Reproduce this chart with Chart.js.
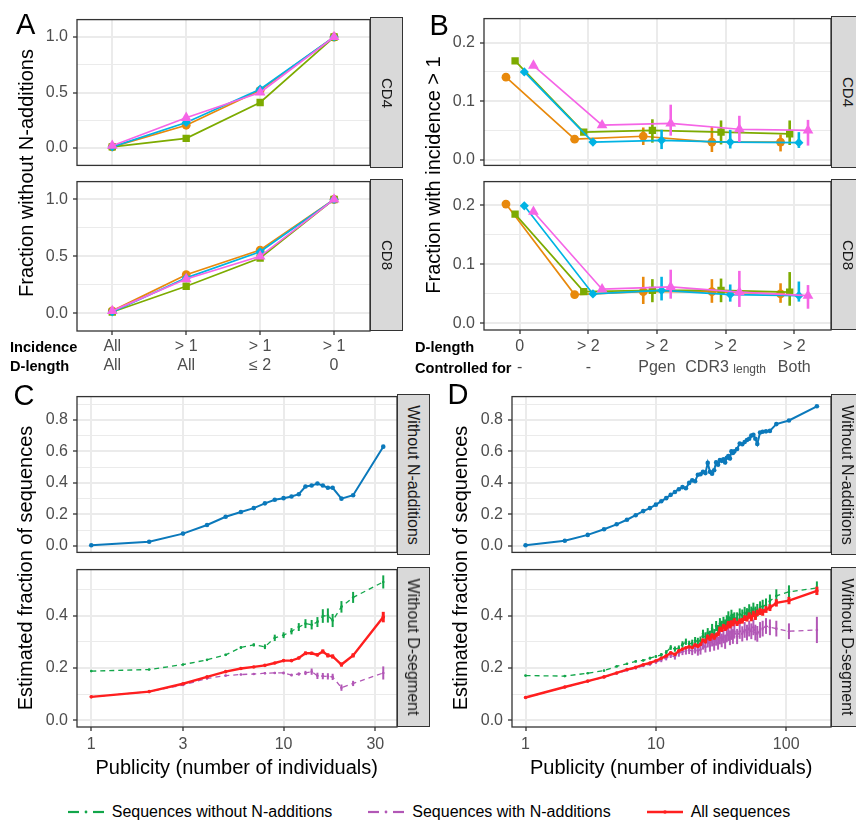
<!DOCTYPE html>
<html>
<head>
<meta charset="utf-8">
<script src="https://cdn.jsdelivr.net/npm/chart.js@4.4.0/dist/chart.umd.min.js"></script>
<style>
  body { margin: 0; background: #fff; width: 856px; height: 823px; position: relative; overflow: hidden;
         font-family: "Liberation Sans", Arial, sans-serif; }
  canvas { position: absolute; }
  .t { position: absolute; white-space: nowrap; line-height: 1; transform: translate(-50%, -50%); }
  .strip { position: absolute; background: #d9d9d9; border: 1px solid #333; box-sizing: border-box; }
  .strip span { position: absolute; left: 50%; top: 50%; white-space: nowrap; line-height: 1; color: #1a1a1a;
                transform: translate(-50%, -50%) rotate(90deg); }
  .legend { position: absolute; left: 0; top: 803px; width: 856px; display: flex; justify-content: center;
            align-items: center; font-size: 16px; color: #000; }
  .legend .item { display: flex; align-items: center; margin: 0 17px; }
  .legend svg { margin-right: 6px; }
</style>
</head>
<body>
<script>
// ---------- panel A : fraction without N-additions ----------
const catA = [1, 2, 3, 4];
const incidenceA = ['All', '> 1', '> 1', '> 1'];
const dLengthA = ['All', 'All', '\u2264 2', '0'];
const a4Orange = [0.01, 0.205, 0.52, 1.0];
const a4Green = [0.01, 0.087, 0.41, 1.0];
const a4Cyan = [0.01, 0.23, 0.53, 1.0];
const a4Pink = [0.02, 0.272, 0.50, 1.0];
const a8Orange = [0.02, 0.338, 0.555, 1.0];
const a8Green = [0.01, 0.237, 0.485, 1.0];
const a8Cyan = [0.01, 0.31, 0.54, 1.0];
const a8Pink = [0.02, 0.30, 0.50, 1.0];

// ---------- panel B : fraction with incidence > 1 ----------
const catB = [1, 2, 3, 4, 5];
const dLengthB = ['0', '> 2', '> 2', '> 2', '> 2'];
const controlB = ['-', '-', 'Pgen', 'CDR3', 'Both'];
const controlSubB = ['', '', '', 'length', ''];
const b4Orange = [0.141, 0.035, 0.040, 0.030, 0.030];
const b4OrangeLo = [null, null, 0.025, 0.013, 0.014];
const b4OrangeHi = [null, null, 0.055, 0.056, 0.043];
const b4Green = [0.169, 0.047, 0.050, 0.047, 0.044];
const b4GreenLo = [null, null, 0.029, 0.026, 0.025];
const b4GreenHi = [null, null, 0.069, 0.067, 0.067];
const b4Cyan = [0.150, 0.030, 0.033, 0.030, 0.029];
const b4CyanLo = [null, null, 0.018, 0.019, 0.020];
const b4CyanHi = [null, null, 0.051, 0.051, 0.047];
const b4Pink = [0.161, 0.059, 0.062, 0.052, 0.050];
const b4PinkLo = [null, null, 0.041, 0.030, 0.024];
const b4PinkHi = [null, null, 0.094, 0.075, 0.068];
const b8Orange = [0.202, 0.049, 0.054, 0.054, 0.050];
const b8OrangeLo = [null, null, 0.033, 0.035, 0.035];
const b8OrangeHi = [null, null, 0.079, 0.075, 0.068];
const b8Green = [0.185, 0.054, 0.056, 0.056, 0.053];
const b8GreenLo = [null, null, 0.036, 0.036, 0.030];
const b8GreenHi = [null, null, 0.075, 0.076, 0.087];
const b8Cyan = [0.199, 0.050, 0.056, 0.049, 0.047];
const b8CyanLo = [null, null, 0.039, 0.037, 0.037];
const b8CyanHi = [null, null, 0.079, 0.066, 0.071];
const b8Pink = [0.189, 0.058, 0.062, 0.053, 0.047];
const b8PinkLo = [null, null, 0.042, 0.028, 0.025];
const b8PinkHi = [null, null, 0.091, 0.089, 0.065];

// ---------- panel C ----------
const pubC = [1, 2, 3, 4, 5, 6, 7, 8, 9, 10, 11, 12, 13, 14, 15, 16, 17, 18, 20, 23, 33];
const noNC = [0.004, 0.026, 0.078, 0.133, 0.185, 0.215, 0.24, 0.27, 0.293, 0.303, 0.314, 0.328,
  0.377, 0.383, 0.396, 0.383, 0.369, 0.369, 0.30, 0.322, 0.63];
const allC = [0.09, 0.11, 0.14, 0.166, 0.186, 0.198, 0.204, 0.21, 0.219, 0.228, 0.228, 0.238,
  0.256, 0.256, 0.25, 0.263, 0.248, 0.244, 0.213, 0.248, 0.394];
const allErrC = [0.002, 0.002, 0.002, 0.002, 0.002, 0.002, 0.003, 0.003, 0.003, 0.003, 0.004, 0.005,
  0.007, 0.006, 0.006, 0.008, 0.008, 0.008, 0.008, 0.008, 0.02];
const withoutNC = [0.188, 0.194, 0.213, 0.231, 0.25, 0.278, 0.288, 0.281, 0.315, 0.325, 0.34, 0.356,
  0.369, 0.365, 0.375, 0.398, 0.40, 0.381, 0.433, 0.469, 0.528];
const withoutNErrC = [0.003, 0.003, 0.003, 0.003, 0.004, 0.005, 0.006, 0.009, 0.012, 0.011, 0.012, 0.015,
  0.017, 0.018, 0.019, 0.026, 0.027, 0.025, 0.022, 0.021, 0.025];
const withNC = [0.09, 0.11, 0.135, 0.16, 0.171, 0.175, 0.177, 0.18, 0.181, 0.181, 0.173, 0.177,
  0.181, 0.186, 0.17, 0.169, 0.168, 0.166, 0.125, 0.141, 0.181];
const withNErrC = [0.002, 0.002, 0.002, 0.003, 0.003, 0.003, 0.003, 0.004, 0.004, 0.005, 0.005, 0.006,
  0.008, 0.012, 0.012, 0.012, 0.012, 0.012, 0.012, 0.01, 0.025];

// ---------- panel D ----------
const pubD = [1, 2, 3, 4, 5, 6, 7, 8, 9, 10, 11, 12, 13, 14, 15, 16, 17, 18, 19, 20,
  21, 22, 23, 24, 25, 26, 27, 28, 29, 30, 31, 32, 33, 34, 35, 36, 37, 38, 39, 40,
  42, 44, 46, 48, 50, 52, 54, 56, 58, 60, 63, 66, 70, 75, 84, 105, 172];
const noND = [0.004, 0.033, 0.07, 0.106, 0.137, 0.166, 0.195, 0.221, 0.24, 0.262,
  0.283, 0.303, 0.324, 0.342, 0.36, 0.373, 0.366, 0.40, 0.416, 0.41,
  0.452, 0.455, 0.47, 0.462, 0.527, 0.47, 0.458, 0.48, 0.53, 0.515,
  0.545, 0.54, 0.55, 0.53, 0.56, 0.57, 0.555, 0.60, 0.59, 0.60,
  0.615, 0.65, 0.645, 0.66, 0.672, 0.68, 0.70, 0.705, 0.68, 0.647,
  0.72, 0.725, 0.727, 0.73, 0.773, 0.796, 0.886];
const allD = [0.0875, 0.1275, 0.15, 0.166, 0.181, 0.194, 0.2025, 0.2125, 0.219, 0.2275,
  0.237, 0.246, 0.258, 0.252, 0.265, 0.272, 0.277, 0.281, 0.278, 0.288,
  0.283, 0.29, 0.306, 0.30, 0.32, 0.31, 0.325, 0.315, 0.325, 0.33,
  0.35, 0.345, 0.36, 0.35, 0.356, 0.37, 0.36, 0.372, 0.369, 0.38,
  0.37, 0.378, 0.38, 0.39, 0.388, 0.40, 0.39, 0.406, 0.395, 0.41,
  0.415, 0.412, 0.423, 0.43, 0.448, 0.457, 0.494];
const allErrD = [0.002, 0.002, 0.002, 0.002, 0.002, 0.002, 0.002, 0.002, 0.002, 0.002,
  0.003, 0.003, 0.004, 0.004, 0.004, 0.004, 0.004, 0.004, 0.005, 0.005,
  0.006, 0.006, 0.006, 0.006, 0.007, 0.007, 0.007, 0.007, 0.008, 0.008,
  0.008, 0.008, 0.008, 0.009, 0.009, 0.009, 0.009, 0.01, 0.01, 0.01,
  0.01, 0.01, 0.011, 0.011, 0.011, 0.012, 0.012, 0.012, 0.012, 0.012,
  0.013, 0.013, 0.013, 0.013, 0.014, 0.014, 0.016];
const withoutND = [0.171, 0.169, 0.18, 0.19, 0.206, 0.216, 0.225, 0.229, 0.2375, 0.244,
  0.25, 0.26, 0.278, 0.272, 0.276, 0.29, 0.30, 0.292, 0.295, 0.305,
  0.30, 0.305, 0.33, 0.32, 0.335, 0.325, 0.35, 0.33, 0.36, 0.345,
  0.37, 0.36, 0.375, 0.365, 0.38, 0.395, 0.375, 0.40, 0.385, 0.39,
  0.39, 0.405, 0.40, 0.41, 0.405, 0.42, 0.41, 0.425, 0.41, 0.42,
  0.43, 0.435, 0.44, 0.455, 0.475, 0.49, 0.505];
const withoutNErrD = [0.003, 0.003, 0.003, 0.003, 0.003, 0.003, 0.004, 0.004, 0.005, 0.005,
  0.007, 0.008, 0.009, 0.01, 0.01, 0.012, 0.012, 0.012, 0.013, 0.013,
  0.015, 0.015, 0.016, 0.016, 0.017, 0.017, 0.018, 0.018, 0.019, 0.019,
  0.02, 0.02, 0.02, 0.02, 0.021, 0.021, 0.021, 0.022, 0.022, 0.022,
  0.022, 0.022, 0.023, 0.023, 0.023, 0.023, 0.024, 0.024, 0.024, 0.024,
  0.024, 0.025, 0.025, 0.025, 0.025, 0.025, 0.025];
const withND = [0.087, 0.127, 0.149, 0.165, 0.179, 0.191, 0.199, 0.208, 0.214, 0.222,
  0.23, 0.238, 0.248, 0.243, 0.255, 0.262, 0.265, 0.268, 0.265, 0.272,
  0.265, 0.27, 0.29, 0.28, 0.30, 0.285, 0.305, 0.29, 0.31, 0.295,
  0.315, 0.305, 0.32, 0.30, 0.325, 0.33, 0.315, 0.335, 0.32, 0.34,
  0.32, 0.34, 0.33, 0.345, 0.335, 0.35, 0.34, 0.355, 0.335, 0.33,
  0.345, 0.35, 0.36, 0.355, 0.35, 0.34, 0.345];
const withNErrD = [0.003, 0.003, 0.003, 0.003, 0.003, 0.003, 0.004, 0.004, 0.005, 0.006,
  0.008, 0.009, 0.01, 0.011, 0.012, 0.013, 0.014, 0.015, 0.016, 0.017,
  0.018, 0.019, 0.02, 0.021, 0.022, 0.023, 0.023, 0.024, 0.025, 0.025,
  0.025, 0.026, 0.026, 0.027, 0.027, 0.027, 0.028, 0.028, 0.028, 0.028,
  0.029, 0.029, 0.029, 0.03, 0.03, 0.03, 0.03, 0.03, 0.03, 0.03,
  0.03, 0.03, 0.03, 0.03, 0.03, 0.03, 0.05];

// ---------- styles ----------
const groupColors = ['#e8890c', '#7dab00', '#00b3e3', '#f565e6'];
const groupShapes = ['circle', 'rect', 'rectRot', 'triangle'];
const groupRadius = [4.4, 5.2, 4.6, 6.2];
const dodgeB = [-0.2, -0.067, 0.067, 0.2];
const blue = '#0b79bb', green = '#12a64a', purple = '#b257b6', red = '#ff1f1f';

Chart.defaults.font.family = '"Liberation Sans", Arial, sans-serif';
Chart.defaults.font.size = 16;
Chart.defaults.color = '#4d4d4d';
Chart.defaults.animation = false;
Chart.defaults.plugins.legend.display = false;
Chart.defaults.plugins.tooltip.enabled = false;

// vertical error bars, drawn right after their own dataset
const errorBars = {
  id: 'errorBars',
  afterDatasetDraw(chart, args) {
    const ds = chart.data.datasets[args.index];
    if (!ds.err) return;
    const { ctx, scales: { x, y } } = chart;
    ctx.save();
    ctx.strokeStyle = ds.borderColor;
    ctx.lineWidth = ds.errWidth || 2;
    ds.data.forEach((p, i) => {
      const e = ds.err[i];
      if (!e || e[0] == null) return;
      const px = x.getPixelForValue(p.x);
      ctx.beginPath();
      ctx.moveTo(px, y.getPixelForValue(e[0]));
      ctx.lineTo(px, y.getPixelForValue(e[1]));
      ctx.stroke();
    });
    ctx.restore();
  }
};

// panel border on top of everything
const frame = {
  id: 'frame',
  afterDraw(chart) {
    const { ctx, chartArea: a } = chart;
    ctx.save();
    ctx.strokeStyle = '#333';
    ctx.lineWidth = 1.3;
    ctx.strokeRect(a.left, a.top, a.right - a.left, a.bottom - a.top);
    ctx.restore();
  }
};

// two-row category labels under the discrete x axes
const catLabels = {
  id: 'catLabels',
  afterDraw(chart, args, opts) {
    if (!opts.rows) return;
    const { ctx, chartArea, scales: { x } } = chart;
    ctx.save();
    ctx.fillStyle = '#4d4d4d';
    ctx.textBaseline = 'middle';
    opts.rows.forEach((row, r) => {
      row.forEach((s, i) => {
        const px = x.getPixelForValue(i + 1);
        const py = chartArea.bottom + opts.offsets[r];
        const sub = opts.subs && opts.subs[r] ? opts.subs[r][i] : '';
        ctx.font = '16px "Liberation Sans", Arial, sans-serif';
        if (sub) {
          const w1 = ctx.measureText(s + ' ').width;
          ctx.font = '12px "Liberation Sans", Arial, sans-serif';
          const w2 = ctx.measureText(sub).width;
          const x0 = px - (w1 + w2) / 2;
          ctx.textAlign = 'left';
          ctx.font = '16px "Liberation Sans", Arial, sans-serif';
          ctx.fillText(s, x0, py);
          ctx.font = '12px "Liberation Sans", Arial, sans-serif';
          ctx.fillText(sub, x0 + w1, py + 2);
        } else {
          ctx.textAlign = 'center';
          ctx.fillText(s, px, py);
        }
      });
    });
    ctx.restore();
  }
};

Chart.register(errorBars, frame, catLabels);

const near = (v, list) => list.some(m => Math.abs(m - v) < 1e-9);

function makePanel(rect, p) {
  const yW = 50, pad = 12, xH = p.xH || 0;
  const cv = document.createElement('canvas');
  cv.width = Math.round(rect.r - rect.l + yW + pad);
  cv.height = Math.round(rect.b - rect.t + 2 * pad + xH);
  cv.style.left = (rect.l - yW) + 'px';
  cv.style.top = (rect.t - pad) + 'px';
  document.body.appendChild(cv);
  return new Chart(cv, {
    type: 'line',
    data: { datasets: p.datasets },
    options: {
      responsive: false,
      layout: { padding: { left: 0, top: pad, right: pad, bottom: pad } },
      plugins: { catLabels: p.cat || {} },
      scales: {
        x: {
          type: p.xType, min: p.xMin, max: p.xMax,
          afterFit: s => { s.height = xH; },
          afterBuildTicks: s => { s.ticks = p.xTicks.map(v => ({ value: v })); },
          ticks: { display: !!p.xLabels, autoSkip: false, maxRotation: 0, padding: 4, callback: v => String(v) },
          grid: { color: '#ebebeb', lineWidth: 2, drawTicks: !!p.xTickMarks, tickLength: 4,
                  tickColor: '#333', tickWidth: 1.3 },
          border: { display: false }
        },
        y: {
          type: 'linear', min: p.yMin, max: p.yMax,
          afterFit: s => { s.width = yW; },
          afterBuildTicks: s => { s.ticks = p.yTicks.map(v => ({ value: v })); },
          ticks: { autoSkip: false, padding: 5,
                   callback: v => near(v, p.yMajor) ? v.toFixed(1) : '' },
          grid: {
            color: '#ebebeb',
            lineWidth: c => (c.tick && near(c.tick.value, p.yMajor)) ? 2 : 1,
            tickLength: 4,
            tickColor: c => (c.tick && near(c.tick.value, p.yMajor)) ? '#333' : 'rgba(0,0,0,0)',
            tickWidth: 1.3
          },
          border: { display: false }
        }
      }
    }
  });
}

// grouped series for A and B
function groupSets(cats, series, dodge, lows, highs) {
  return series.map((vals, s) => ({
    data: cats.map((c, i) => ({ x: c + (dodge ? dodge[s] : 0), y: vals[i] })),
    err: lows ? cats.map((c, i) => [lows[s][i], highs[s][i]]) : null,
    errWidth: 2.6,
    borderColor: groupColors[s], backgroundColor: groupColors[s],
    borderWidth: 1.7, pointStyle: groupShapes[s], pointRadius: groupRadius[s],
    pointBorderWidth: 0, order: -s
  }));
}

function pubSet(pubs, vals, errs, color, opt) {
  return Object.assign({
    data: pubs.map((x, i) => ({ x, y: vals[i] })),
    err: errs ? vals.map((v, i) => [v - errs[i], v + errs[i]]) : null,
    borderColor: color, backgroundColor: color, pointBorderWidth: 0
  }, opt);
}

// ----- A -----
const rA4 = { l: 77, r: 370, t: 17, b: 168 }, rA8 = { l: 77, r: 370, t: 179, b: 331 };
const aScale = { xType: 'linear', xMin: 0.523, xMax: 4.486, xTicks: catA,
  yMin: -0.157, yMax: 1.157, yTicks: [0, 0.25, 0.5, 0.75, 1], yMajor: [0, 0.5, 1] };
makePanel(rA4, Object.assign({}, aScale, {
  datasets: groupSets(catA, [a4Orange, a4Green, a4Cyan, a4Pink]) }));
makePanel(rA8, Object.assign({}, aScale, { xTickMarks: true, xH: 46,
  cat: { rows: [incidenceA, dLengthA], offsets: [16, 34.5] },
  datasets: groupSets(catA, [a8Orange, a8Green, a8Cyan, a8Pink]) }));

// ----- B -----
const rB4 = { l: 484.3, r: 831, t: 15.7, b: 167.7 }, rB8 = { l: 484.3, r: 831, t: 179, b: 330 };
const bScale = { xType: 'linear', xMin: 0.48, xMax: 5.535, xTicks: catB,
  yTicks: [0, 0.05, 0.1, 0.15, 0.2], yMajor: [0, 0.1, 0.2] };
makePanel(rB4, Object.assign({}, bScale, { yMin: -0.0099, yMax: 0.2413,
  datasets: groupSets(catB, [b4Orange, b4Green, b4Cyan, b4Pink], dodgeB,
    [b4OrangeLo, b4GreenLo, b4CyanLo, b4PinkLo], [b4OrangeHi, b4GreenHi, b4CyanHi, b4PinkHi]) }));
makePanel(rB8, Object.assign({}, bScale, { yMin: -0.011, yMax: 0.24, xTickMarks: true, xH: 46,
  cat: { rows: [dLengthB, controlB], subs: [null, controlSubB], offsets: [16.5, 37.5] },
  datasets: groupSets(catB, [b8Orange, b8Green, b8Cyan, b8Pink], dodgeB,
    [b8OrangeLo, b8GreenLo, b8CyanLo, b8PinkLo], [b8OrangeHi, b8GreenHi, b8CyanHi, b8PinkHi]) }));

// ----- C and D -----
const topY = { yMin: -0.0412, yMax: 0.9477, yTicks: [0, 0.1, 0.2, 0.3, 0.4, 0.5, 0.6, 0.7, 0.8, 0.9],
  yMajor: [0, 0.2, 0.4, 0.6, 0.8] };
const botY = { yMin: -0.025, yMax: 0.575, yTicks: [0, 0.1, 0.2, 0.3, 0.4, 0.5], yMajor: [0, 0.2, 0.4] };
const dashed = { borderWidth: 1.3, borderDash: [5, 4], pointRadius: 1.3, errWidth: 2 };
const solidRed = { borderWidth: 2.4, pointRadius: 1.8, errWidth: 3 };
const blueLine = { borderWidth: 2, pointRadius: 2.3 };

const cX = { xType: 'logarithmic', xMin: 0.843, xMax: 38.9, xTicks: [1, 3, 10, 30] };
makePanel({ l: 76.7, r: 396.7, t: 394.3, b: 555 }, Object.assign({}, cX, topY, {
  datasets: [pubSet(pubC, noNC, null, blue, blueLine)] }));
makePanel({ l: 76.7, r: 396.7, t: 566.7, b: 726.7 }, Object.assign({}, cX, botY, {
  xLabels: true, xTickMarks: true, xH: 28,
  datasets: [
    pubSet(pubC, allC, allErrC, red, solidRed),
    pubSet(pubC, withoutNC, withoutNErrC, green, dashed),
    pubSet(pubC, withNC, withNErrC, purple, dashed)
  ] }));

const dX = { xType: 'logarithmic', xMin: 0.787, xMax: 220.7, xTicks: [1, 10, 100] };
makePanel({ l: 511.7, r: 830.7, t: 394.3, b: 555 }, Object.assign({}, dX, topY, {
  datasets: [pubSet(pubD, noND, null, blue, blueLine)] }));
makePanel({ l: 511.7, r: 830.7, t: 566.7, b: 726.7 }, Object.assign({}, dX, botY, {
  xLabels: true, xTickMarks: true, xH: 28,
  datasets: [
    pubSet(pubD, allD, allErrD, red, solidRed),
    pubSet(pubD, withoutND, withoutNErrD, green, dashed),
    pubSet(pubD, withND, withNErrD, purple, dashed)
  ] }));

// ---------- text, strips, legend ----------
function text(s, x, y, css) {
  const d = document.createElement('div');
  d.className = 't';
  d.textContent = s;
  d.style.left = x + 'px';
  d.style.top = y + 'px';
  Object.assign(d.style, css || {});
  document.body.appendChild(d);
}
function ytitle(s, x, y) {
  text(s, x, y, { fontSize: '20px', color: '#000', transform: 'translate(-50%, -50%) rotate(-90deg)' });
}
function strip(s, l, t, b, size) {
  const d = document.createElement('div');
  d.className = 'strip';
  Object.assign(d.style, { left: l + 'px', top: t + 'px', width: '33px', height: (b - t) + 'px' });
  const sp = document.createElement('span');
  sp.textContent = s;
  sp.style.fontSize = size + 'px';
  d.appendChild(sp);
  document.body.appendChild(d);
}
function letter(s, l, t) {
  text(s, l, t, { fontSize: '29px', color: '#000', transform: 'none' });
}

letter('A', 16, 9.5); letter('B', 429.5, 11.2); letter('C', 13.5, 381.2); letter('D', 447.5, 379.5);

ytitle('Fraction without N-additions', 25.5, 172.5);
ytitle('Fraction with incidence > 1', 433, 175);
ytitle('Estimated fraction of sequences', 25, 568);
ytitle('Estimated fraction of sequences', 460, 568);
text('Publicity (number of individuals)', 236.7, 767, { fontSize: '20px', color: '#000' });
text('Publicity (number of individuals)', 671.2, 767, { fontSize: '20px', color: '#000' });

const rowLbl = { fontSize: '14.6px', fontWeight: 'bold', color: '#000', transform: 'translate(0, -50%)' };
text('Incidence', 10, 347, rowLbl);
text('D-length', 10, 365.5, rowLbl);
text('D-length', 415, 346.5, rowLbl);
text('Controlled for', 415, 367.5, rowLbl);

strip('CD4', 370, 17, 168, 15);
strip('CD8', 370, 179, 331, 15);
strip('CD4', 831, 15.7, 167.7, 15);
strip('CD8', 831, 179, 330, 15);
strip('Without N-additions', 396.7, 394.3, 555, 16);
strip('Without D-segment', 396.7, 566.7, 726.7, 16);
strip('Without N-additions', 830.7, 394.3, 555, 16);
strip('Without D-segment', 830.7, 566.7, 726.7, 16);

const legendItems = [
  { label: 'Sequences without N-additions', color: green, dash: true },
  { label: 'Sequences with N-additions', color: purple, dash: true },
  { label: 'All sequences', color: red, dash: false }
];
const lg = document.createElement('div');
lg.className = 'legend';
legendItems.forEach(it => {
  const item = document.createElement('div');
  item.className = 'item';
  const key = it.dash
    ? `<line x1="2" y1="8" x2="13" y2="8" stroke="${it.color}" stroke-width="2.2"/>
       <line x1="27" y1="8" x2="38" y2="8" stroke="${it.color}" stroke-width="2.2"/>
       <circle cx="20" cy="8" r="1.4" fill="${it.color}"/>`
    : `<line x1="2" y1="8" x2="38" y2="8" stroke="${it.color}" stroke-width="2.4"/>
       <circle cx="20" cy="8" r="1.8" fill="${it.color}"/>`;
  item.innerHTML = `<svg width="40" height="16">${key}</svg><span>${it.label}</span>`;
  lg.appendChild(item);
});
document.body.appendChild(lg);
</script>
</body>
</html>
